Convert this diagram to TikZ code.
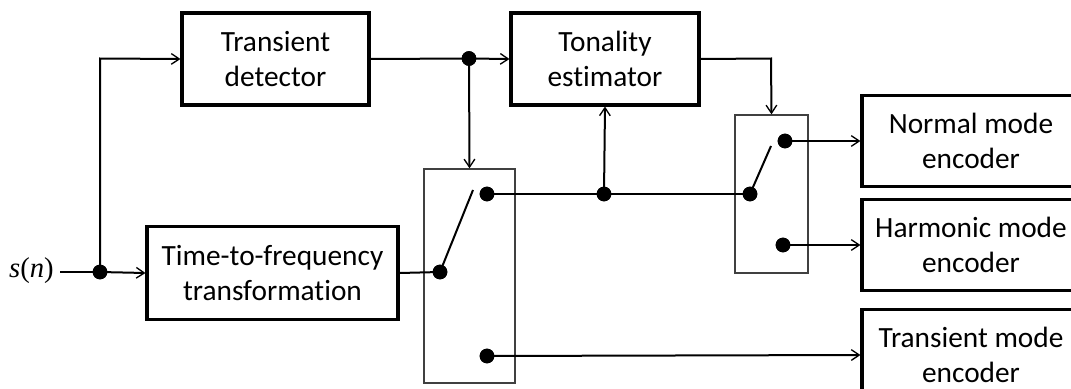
\documentclass[tikz,border=0pt]{standalone}
\usepackage{fontspec}
\setmainfont{Carlito}[Ligatures={NoCommon,NoRare,NoContextual}]
\newfontfamily\tnr{Liberation Serif}
\usetikzlibrary{arrows.meta,calc}
\begin{document}
\begin{tikzpicture}[x=0.75pt,y=-0.75pt,
  blk/.style={draw,line width=2.3pt,align=center,inner sep=0pt,
    font=\fontsize{22}{26.8}\selectfont},
  swbox/.style={draw=black!75,line width=1pt,inner sep=0pt},
  dotnode/.style={circle,fill=black,inner sep=0pt,minimum size=11pt},
  wire/.style={line width=1.5pt},
  arr/.style={line width=1.5pt,-{Straight Barb[length=6pt,width=8pt,line width=1pt]}},
  arm/.style={line width=1.5pt}]
\clip (0,0) rectangle (1071,389);
% blocks
\node[blk,minimum width=140.25pt,minimum height=69pt] (td) at (275.5,59) {Transient\\detector};
\node[blk,minimum width=141pt,minimum height=69pt] (ton) at (605,59) {Tonality\\estimator};
\node[blk,minimum width=188.25pt,minimum height=69.4pt] (tf) at (272.5,273) {Time-to-frequency\\transformation};
\node[blk,minimum width=163.5pt,minimum height=68.25pt] (nm) at (971,141) {Normal mode\\encoder};
\node[blk,minimum width=163.5pt,minimum height=68.25pt] (hm) at (971,245) {Harmonic mode\\encoder};
\node[blk,minimum width=163.5pt,minimum height=68.25pt] (tm) at (971,355) {Transient mode\\encoder};
% switch boxes
\node[swbox,minimum width=68.25pt,minimum height=160.5pt] (sw1) at (469.5,276) {};
\node[swbox,minimum width=54.75pt,minimum height=118.5pt] (sw2) at (771.5,194) {};
% input
\node[font=\fontsize{21.5}{24}\selectfont,anchor=east,inner sep=0pt] (sn) at (54,271) {{\tnr\itshape s}{\tnr(}{\tnr\itshape n}{\tnr)}};
\coordinate (snend) at (60,272);
% dots
\node[dotnode] (din) at (100,272) {};
\node[dotnode] (dtd) at (469,58.5) {};
\node[dotnode] (s1p) at (440,272) {};
\node[dotnode] (s1t) at (487,194) {};
\node[dotnode] (s1b) at (487,356) {};
\node[dotnode] (dmid) at (604,194) {};
\node[dotnode] (s2p) at (750,194) {};
\node[dotnode] (s2t) at (785,141) {};
\node[dotnode] (s2b) at (783,245) {};
\coordinate (s1arm) at (473,190);
\coordinate (s2arm) at (771,146);
\coordinate (corner1) at (100,58.5);
\coordinate (corner2) at (771,58.5);
% connectors
\draw[wire] (snend) -- (din.center);
\draw[arr] (din.center) -- (tf.west);
\draw[arr] (din.center) -- (corner1) -- (td.west);
\draw[wire] (td.east) -- (dtd.center);
\draw[arr] (dtd.center) -- (ton.west);
\draw[arr] (dtd.center) -- (sw1.north);
\draw[wire] (tf.east) -- (s1p.center);
\draw[arm] (s1p.center) -- (s1arm);
\draw[wire] (s1t.center) -- (s2p.center);
\draw[arr] (dmid.center) -- (ton.south);
\draw[arr] (ton.east) -- (corner2) -- (sw2.north);
\draw[arm] (s2p.center) -- (s2arm);
\draw[arr] (s2t.center) -- (nm.west);
\draw[arr] (s2b.center) -- (hm.west);
\draw[arr] (s1b.center) -- (tm.west);
% redraw dots on top
\foreach \d in {din,dtd,s1p,s1t,s1b,dmid,s2p,s2t,s2b}
  \fill (\d) circle (5.5pt);
\end{tikzpicture}
\end{document}
